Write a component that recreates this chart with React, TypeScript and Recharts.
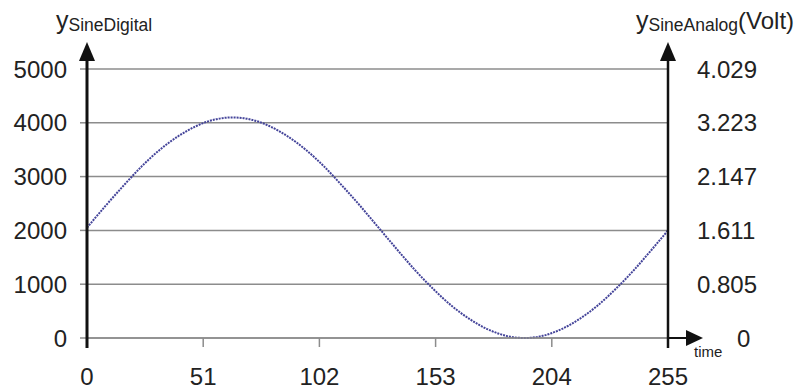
import { CartesianGrid, Line, LineChart, XAxis, YAxis } from "recharts";

const time = [
  0, 8, 16, 24, 32, 40, 48, 56, 64, 72, 80, 88, 96, 104, 112, 120, 128, 136,
  144, 152, 160, 168, 176, 184, 192, 200, 208, 216, 224, 232, 240, 248, 255,
];
const sineDigital = [
  2050, 2450, 2830, 3190, 3500, 3750, 3940, 4060, 4100, 4060, 3940, 3750, 3500,
  3190, 2830, 2450, 2050, 1650, 1260, 910, 600, 350, 160, 40, 0, 40, 160, 350,
  600, 910, 1260, 1650, 2000,
];

const timeTicks = [0, 51, 102, 153, 204, 255];
const digitalTicks = [0, 1000, 2000, 3000, 4000, 5000];
const voltLabels = ["0", "0.805", "1.611", "2.147", "3.223", "4.029"];

const data = time.map((t, i) => ({ t, y: sineDigital[i] }));

const W = 803;
const H = 389;
const LEFT_W = 70;
const RIGHT_W = 110;
const X_H = 45;
const margin = { top: 69, right: 25, bottom: 6, left: 17 };
const plotLeft = margin.left + LEFT_W;
const plotRight = W - margin.right - RIGHT_W;
const plotBottom = H - margin.bottom - X_H;

const FONT = "'Liberation Sans', Arial, sans-serif";
const TEXT = "#222";
const FS = 24;

const renderVoltTick = (props: any) => {
  const { x, y, payload } = props;
  const idx = digitalTicks.indexOf(payload.value);
  const label = voltLabels[idx] ?? "";
  // the "0" sits past the time arrow
  const dx = payload.value === 0 ? 40 : 0;
  return (
    <text
      key={`volt-${payload.value}`}
      x={x + dx}
      y={y}
      dy="0.36em"
      textAnchor="start"
      fontSize={FS}
      fill={TEXT}
      fontFamily={FONT}
    >
      {label}
    </text>
  );
};

function Decorations() {
  return (
    <svg
      width={W}
      height={H}
      style={{ position: "absolute", left: 0, top: 0, pointerEvents: "none" }}
    >
      {/* left axis */}
      <line x1={plotLeft} y1={plotBottom + 10} x2={plotLeft} y2={55} stroke="#111" strokeWidth={3} />
      <polygon
        points={`${plotLeft},42 ${plotLeft - 8},61 ${plotLeft + 8},61`}
        fill="#111"
      />
      {/* right axis */}
      <line x1={plotRight} y1={plotBottom + 10} x2={plotRight} y2={55} stroke="#111" strokeWidth={2.5} />
      <polygon
        points={`${plotRight},42 ${plotRight - 8},61 ${plotRight + 8},61`}
        fill="#111"
      />
      {/* time arrow */}
      <line x1={plotRight} y1={plotBottom} x2={690} y2={plotBottom} stroke="#111" strokeWidth={2} />
      <polygon
        points={`703,${plotBottom} 686,${plotBottom - 8} 686,${plotBottom + 8}`}
        fill="#111"
      />
      <text x={694} y={357} fontSize={15} fill={TEXT} fontFamily={FONT}>
        time
      </text>
      {/* axis titles */}
      <text x={56} y={29} fill={TEXT} fontFamily={FONT}>
        <tspan fontSize={25}>y</tspan>
        <tspan fontSize={17.5} dy={2}>SineDigital</tspan>
      </text>
      <text x={636} y={29} fill={TEXT} fontFamily={FONT}>
        <tspan fontSize={25}>y</tspan>
        <tspan fontSize={17.5} dy={2}>SineAnalog</tspan>
        <tspan fontSize={24} dy={-2}>(Volt)</tspan>
      </text>
    </svg>
  );
}

export default function App() {
  return (
    <div
      style={{
        position: "absolute",
        left: 0,
        top: 0,
        width: W,
        height: H,
        background: "#fff",
      }}
    >
      <LineChart width={W} height={H} data={data} margin={margin}>
        <CartesianGrid
          yAxisId="left"
          horizontal
          vertical={false}
          stroke="#8c8c8c"
          strokeWidth={1.5}
        />
        <XAxis
          dataKey="t"
          type="number"
          domain={[0, 255]}
          ticks={timeTicks}
          height={X_H}
          axisLine={{ stroke: "#8c8c8c", strokeWidth: 1.5 }}
          tickLine={{ stroke: "#8c8c8c", strokeWidth: 1.5 }}
          tickSize={9}
          tickMargin={21}
          tick={{ fontSize: FS, fill: TEXT, fontFamily: FONT }}
          interval={0}
        />
        <YAxis
          yAxisId="left"
          orientation="left"
          domain={[0, 5000]}
          ticks={digitalTicks}
          width={LEFT_W}
          axisLine={false}
          tickLine={{ stroke: "#8c8c8c", strokeWidth: 1.5 }}
          tickSize={7}
          tickMargin={13}
          tick={{ fontSize: FS, fill: TEXT, fontFamily: FONT }}
          interval={0}
        />
        <YAxis
          yAxisId="right"
          orientation="right"
          type="number"
          domain={[0, 5000]}
          ticks={digitalTicks}
          width={RIGHT_W}
          axisLine={false}
          tickLine={false}
          tickSize={0}
          tickMargin={29}
          tick={renderVoltTick}
          interval={0}
        />
        <Line
          yAxisId="left"
          type="monotone"
          dataKey="y"
          stroke="#45459a"
          strokeWidth={2}
          strokeDasharray="2 1"
          dot={false}
          isAnimationActive={false}
        />
        <Line
          yAxisId="right"
          dataKey="y"
          stroke="none"
          dot={false}
          activeDot={false}
          legendType="none"
          isAnimationActive={false}
        />
      </LineChart>
      <Decorations />
    </div>
  );
}
